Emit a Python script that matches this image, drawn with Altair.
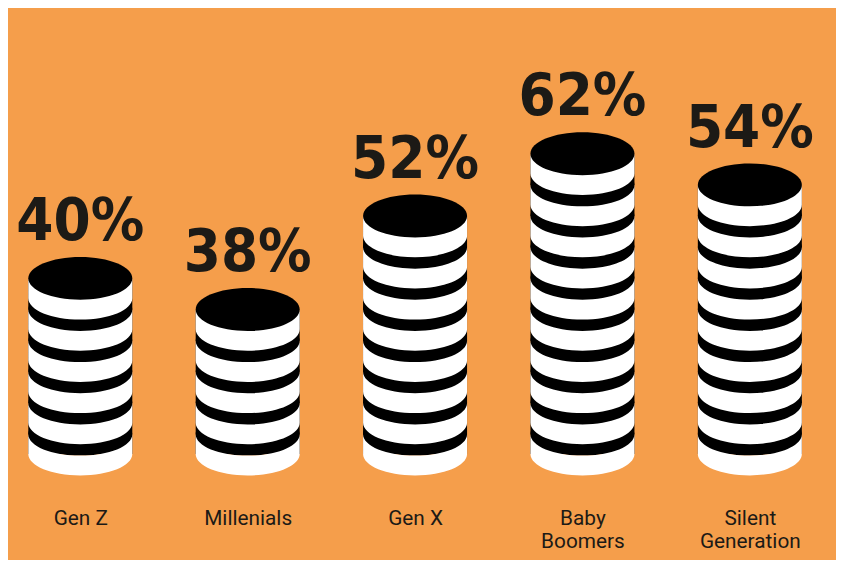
import altair as alt
import pandas as pd

# ---------------- data ----------------
categories = ["Gen Z", "Millenials", "Gen X", "Baby|Boomers", "Silent|Generation"]
values = [40, 38, 52, 62, 54]
coin_counts = [6, 5, 8, 10, 9]

# ---------------- style ----------------
BG = "#F59E4B"
INK = "#1c1a16"
LABEL_FONT = "Roboto, 'Liberation Sans', sans-serif"
NUM_FONT = "'DejaVu Sans Condensed', 'Liberation Sans', sans-serif"

# coin geometry (pixels)
RX, RY, H, S = 52.5, 21.65, 20.0, 31.46
K = 0.5523
ry, h, s = RY / RX, H / RX, S / RX


def n(v):
    return f"{v:.4f}"


ellipse = (f"M -1 0 C -1 {n(-K*ry)} {n(-K)} {n(-ry)} 0 {n(-ry)} "
           f"C {n(K)} {n(-ry)} 1 {n(-K*ry)} 1 0 "
           f"C 1 {n(K*ry)} {n(K)} {n(ry)} 0 {n(ry)} "
           f"C {n(-K)} {n(ry)} -1 {n(K*ry)} -1 0 Z")
black_mid = (f"M -1 0 C -1 {n(-K*ry)} {n(-K)} {n(-ry)} 0 {n(-ry)} "
             f"C {n(K)} {n(-ry)} 1 {n(-K*ry)} 1 0 L 1 {n(s)} L -1 {n(s)} Z")
black_base = ellipse + f" M -1 0 L 1 0 L 1 {n(h)} L -1 {n(h)} Z"
white_band = (f"M -1 0 C -1 {n(K*ry)} {n(-K)} {n(ry)} 0 {n(ry)} "
              f"C {n(K)} {n(ry)} 1 {n(K*ry)} 1 0 L 1 {n(h)} "
              f"C 1 {n(h+K*ry)} {n(K)} {n(h+ry)} 0 {n(h+ry)} "
              f"C {n(-K)} {n(h+ry)} -1 {n(h+K*ry)} -1 {n(h)} Z")
SIZE = (2 * RX) ** 2

rows = []
for c, cnt in zip(categories, coin_counts):
    for j in range(cnt):
        rows.append({"cat": c, "level": j, "kind": "base" if j == 0 else "mid"})
coins_df = pd.DataFrame(rows)

tops_df = pd.DataFrame({
    "cat": categories,
    "level": [cnt - 1 for cnt in coin_counts],
    "label": [f"{v}%" for v in values],
})

xscale = alt.Scale(type="point", domain=categories, range=[73, 749], padding=0)
yscale = alt.Scale(domain=[0, 10], range=[427.6, 113.0])

x_axis = alt.Axis(title=None, domain=False, ticks=False, tickSize=0, grid=False,
                  labelAngle=0, labelExpr="split(datum.label, '|')",
                  labelFont=LABEL_FONT, labelFontSize=21, labelColor=INK,
                  labelPadding=2, labelLineHeight=23, labelOverlap=False)

X = alt.X("cat:N", scale=xscale, axis=x_axis, sort=categories)
Y = alt.Y("level:Q", scale=yscale, axis=None)

black = alt.Chart(coins_df).mark_point(filled=True, size=SIZE, opacity=1, strokeWidth=0, color="#000000").encode(
    x=X, y=Y,
    shape=alt.Shape("kind:N", scale=alt.Scale(domain=["base", "mid"], range=[black_base, black_mid]), legend=None),
)

white = alt.Chart(coins_df).mark_point(filled=True, size=SIZE, opacity=1, strokeWidth=0,
                                      color="#ffffff", shape=white_band).encode(x=X, y=Y)

text = alt.Chart(tops_df).mark_text(font=NUM_FONT, fontSize=60, fontWeight="bold", color=INK,
                                    baseline="alphabetic", dy=-(RY + 17)).encode(
    x=X, y=Y, text="label:N",
)

chart = alt.layer(black, white, text).properties(
    width=836, height=500,
    padding={"left": 0, "top": 0, "right": 0, "bottom": 52},
    autosize=alt.AutoSizeParams(type="none"),
    background=BG,
).configure_view(strokeWidth=0)

chart.save("out.html", embed_options={"renderer": "svg", "actions": False})
